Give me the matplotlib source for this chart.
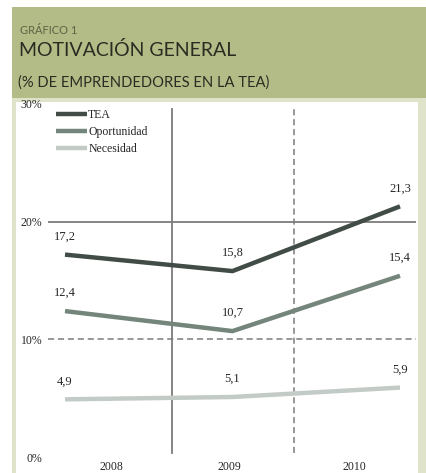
import matplotlib
matplotlib.use("Agg")
import matplotlib.pyplot as plt
from matplotlib.patches import Rectangle

W, H = 426, 473

years = ["2008", "2009", "2010"]
series_names = ["TEA", "Oportunidad", "Necesidad"]
tea = [17.2, 15.8, 21.3]
oportunidad = [12.4, 10.7, 15.4]
necesidad = [4.9, 5.1, 5.9]
y_ticks = [0, 10, 20, 30]
y_tick_labels = ["0%", "10%", "20%", "30%"]

HEADER = "#b3bc87"
FRAME = "#dfe3c9"
TEXT = "#2b2b22"
COLORS = ["#414c46", "#74857c", "#c3cbc6"]
GRID = "#7c7c7c"
NUM = "#262626"


def px(x, y):
    return x / W, 1 - y / H


fig = plt.figure(figsize=(W / 100, H / 100), dpi=100)
fig.patch.set_facecolor("white")

# panels: header band, light frame, white chart area
fig.add_artist(Rectangle(px(12, 473), 414 / W, 375 / H, transform=fig.transFigure,
                         facecolor=FRAME, edgecolor="none", zorder=0))
fig.add_artist(Rectangle(px(12, 98), 414 / W, 91 / H, transform=fig.transFigure,
                         facecolor=HEADER, edgecolor="none", zorder=0))
fig.add_artist(Rectangle(px(16, 473), 402 / W, 371 / H, transform=fig.transFigure,
                         facecolor="white", edgecolor="none", zorder=0))

fig.text(*px(20, 30), "GRÁFICO 1", fontsize=8, color="#5d6344",
         family="Lato", va="center", ha="left")
fig.text(*px(19, 50), "MOTIVACIÓN GENERAL", fontsize=14, color=TEXT,
         family="Lato", va="center", ha="left")
fig.text(*px(18, 83), "(% DE EMPRENDEDORES EN LA TEA)", fontsize=10.6, color=TEXT,
         family="Lato", va="center", ha="left")

# axes: x=0 at 65px, x=2 at 400px; y=0 at 457px, y=30 at 104px
left, right, top, bottom = 48, 416, 104, 457
ax = fig.add_axes([left / W, 1 - bottom / H, (right - left) / W, (bottom - top) / H])
ax.set_facecolor("none")
unit = (400 - 65) / 2
ax.set_xlim((left - 65) / unit, (right - 65) / unit)
ax.set_ylim(0, 30)
for s in ax.spines.values():
    s.set_visible(False)

x = list(range(len(years)))
ax.axhline(20, color=GRID, lw=1.3, zorder=1)
ax.axhline(10, color=GRID, lw=1.1, ls=(0, (4, 2.5)), zorder=1)
ax.plot([(172 - 65) / unit] * 2, [0.3, 29.6], color=GRID, lw=1.3, zorder=1)
ax.plot([(294 - 65) / unit] * 2, [0.3, 29.6], color=GRID, lw=1.1, ls=(0, (4, 2.5)), zorder=1)

for name, vals, c in zip(series_names, [tea, oportunidad, necesidad], COLORS):
    ax.plot(x, vals, color=c, lw=3.2, label=name, zorder=3, solid_capstyle="butt")
    for xi, v in zip(x, vals):
        ax.annotate(f"{v:.1f}".replace(".", ","), (xi, v), xytext=(0, 13),
                    textcoords="offset points", ha="center", va="center",
                    fontsize=9, family="Liberation Serif", color=NUM)

ax.set_yticks(y_ticks)
ax.set_yticklabels(y_tick_labels, family="Liberation Serif", fontsize=8.5, color=NUM)
ax.tick_params(axis="y", length=0, pad=4)
ax.set_xticks([(111 - 65) / unit, (229 - 65) / unit, (354 - 65) / unit])
ax.set_xticklabels(years, family="Liberation Serif", fontsize=8.5, color=NUM)
ax.tick_params(axis="x", length=0, pad=3)

leg = ax.legend(loc="upper left", bbox_to_anchor=(0.01, 1.0), frameon=False,
                prop={"family": "Liberation Serif", "size": 8.5},
                handlelength=2.6, handletextpad=0.1, labelspacing=0.45,
                borderaxespad=0)
for t in leg.get_texts():
    t.set_color(NUM)

fig.savefig("out.png", dpi=100)
